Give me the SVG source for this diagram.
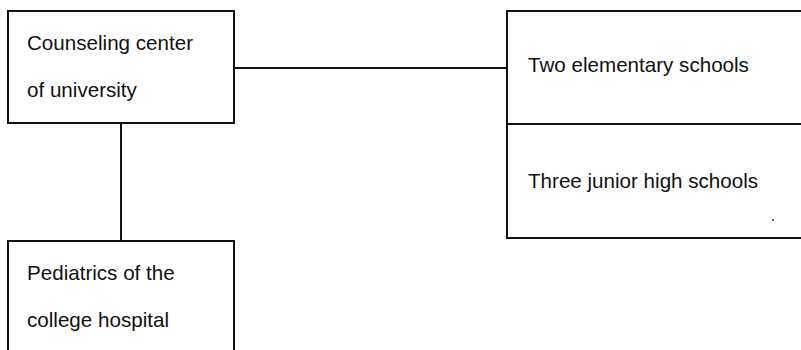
<svg xmlns="http://www.w3.org/2000/svg" width="801" height="350" viewBox="0 0 801 350">
  <style>
    .box { fill: #fff; stroke: #111; stroke-width: 2; }
    .link { fill: none; stroke: #111; stroke-width: 2; }
    .label { font-family: "Liberation Sans", Arial, sans-serif; font-size: 20.6px; fill: #111; }
  </style>
  <rect width="801" height="350" fill="#fff"/>

  <!-- connectors -->
  <g id="connectors">
    <line class="link" x1="234" y1="68" x2="507" y2="68"/>
    <line class="link" x1="121" y1="123" x2="121" y2="240"/>
  </g>

  <!-- university counseling center -->
  <g id="counseling">
    <rect class="box" x="8" y="11" width="226" height="112"/>
    <text class="label" x="27" y="50">Counseling center</text>
    <text class="label" x="27" y="97">of university</text>
  </g>

  <!-- college hospital pediatrics (open at bottom edge) -->
  <g id="pediatrics">
    <path class="box" d="M8 360 V241 H234 V360"/>
    <text class="label" x="27" y="280">Pediatrics of the</text>
    <text class="label" x="27" y="327">college hospital</text>
  </g>

  <!-- schools, stacked two-part box running off the right edge -->
  <g id="schools">
    <path class="box" d="M810 11 H507 V238 H810"/>
    <line class="link" x1="507" y1="124" x2="810" y2="124"/>
    <text class="label" x="528" y="72">Two elementary schools</text>
    <text class="label" x="528" y="188">Three junior high schools</text>
    <circle cx="773" cy="220" r="1" fill="#333"/>
  </g>
</svg>
